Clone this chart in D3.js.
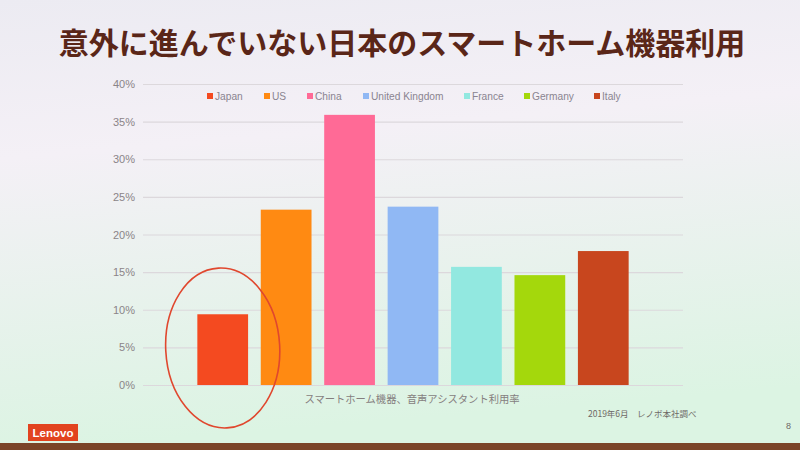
<!DOCTYPE html>
<html><head><meta charset="utf-8">
<script src="https://cdn.jsdelivr.net/npm/d3@7"></script>
<style>body{margin:0;padding:0;overflow:hidden;}svg{display:block;}</style>
</head><body>
<script>
const categories = ["Japan","US","China","United Kingdom","France","Germany","Italy"];
const values = [9.4, 23.3, 35.9, 23.7, 15.7, 14.6, 17.8];
const colors = ["#f44a20","#ff8a12","#ff6a96","#90b8f4","#92e8e0","#a4d80c","#c8461e"];
const yTicks = [0,5,10,15,20,25,30,35,40];
const title = "意外に進んでいない日本のスマートホーム機器利用";
const subtitle = "スマートホーム機器、音声アシスタント利用率";
const source = "2019年6月　レノボ本社調べ";

const W = 800, H = 450;
const svg = d3.select("body").append("svg").attr("width", W).attr("height", H);
const defs = svg.append("defs");
const g1 = defs.append("linearGradient").attr("id","bg").attr("x1","0").attr("y1","0").attr("x2","0.15").attr("y2","1");
g1.append("stop").attr("offset","0").attr("stop-color","#ecebf2");
g1.append("stop").attr("offset","0.35").attr("stop-color","#f4f0f6");
g1.append("stop").attr("offset","1").attr("stop-color","#dcf4e3");
svg.append("rect").attr("width",W).attr("height",H).attr("fill","#7a4428");
svg.append("rect").attr("width",W).attr("height",443).attr("fill","url(#bg)");

svg.append("text").attr("x",402).attr("y",54).attr("text-anchor","middle")
  .attr("font-family","Noto Sans CJK JP").attr("font-weight","bold").attr("font-size",30)
  .attr("fill","#5a2618").text(title);

const y = d3.scaleLinear().domain([0,40]).range([385,84]);
const x = d3.scaleBand().domain(categories).range([191,635]).paddingInner(0.2).paddingOuter(0.1);

const yAxis = d3.axisLeft(y).tickValues(yTicks).tickSize(-540).tickFormat(d => d + "%");
const ga = svg.append("g").attr("transform","translate(143,0)").call(yAxis);
ga.select(".domain").remove();
ga.selectAll(".tick line").attr("stroke","#dcd8dc").attr("stroke-width",1.2);
ga.selectAll(".tick text").attr("x",-8).attr("fill","#8a8488")
  .attr("font-family","Liberation Sans, Arial").attr("font-size",11);

svg.append("g").selectAll("rect").data(categories).join("rect")
  .attr("x", d => x(d)).attr("width", x.bandwidth())
  .attr("y", (d,i) => y(values[i])).attr("height", (d,i) => y(0) - y(values[i]))
  .attr("fill", (d,i) => colors[i]);

// legend
const legX = [207,264,307,363,464,524,594];
const leg = svg.append("g").selectAll("g").data(categories).join("g")
  .attr("transform", (d,i) => `translate(${legX[i]},100)`);
leg.append("rect").attr("x",0).attr("y",-7).attr("width",6).attr("height",6).attr("fill",(d,i)=>colors[i]);
leg.append("text").attr("x",8).attr("y",0).attr("font-family","Liberation Sans, Arial").attr("font-size",10.2)
  .attr("fill","#8a8490").text(d => d);

// highlight ellipse around Japan
svg.append("ellipse").attr("cx", x("Japan") + x.bandwidth()/2).attr("cy",348).attr("rx",57).attr("ry",80)
  .attr("fill","none").attr("stroke","#e0472e").attr("stroke-width",1.6)
  .attr("transform",`rotate(-3 ${x("Japan") + x.bandwidth()/2} 348)`);

svg.append("text").attr("x",412).attr("y",403).attr("text-anchor","middle")
  .attr("font-family","Noto Sans CJK JP").attr("font-size",10.3).attr("fill","#857e7e").text(subtitle);
svg.append("text").attr("x",588).attr("y",417)
  .attr("font-family","Noto Sans CJK JP").attr("font-size",8.5).attr("fill","#6e6866").text(source);
svg.append("text").attr("x",786).attr("y",429)
  .attr("font-family","Liberation Sans, Arial").attr("font-size",9).attr("fill","#6e6866").text("8");

// Lenovo logo
svg.append("rect").attr("x",28).attr("y",424).attr("width",50).attr("height",17).attr("fill","#e2431f");
svg.append("text").attr("x",53).attr("y",437).attr("text-anchor","middle")
  .attr("font-family","Liberation Sans, Arial").attr("font-weight","bold").attr("font-size",11.5)
  .attr("fill","#ffffff").text("Lenovo");
</script>
</body></html>
